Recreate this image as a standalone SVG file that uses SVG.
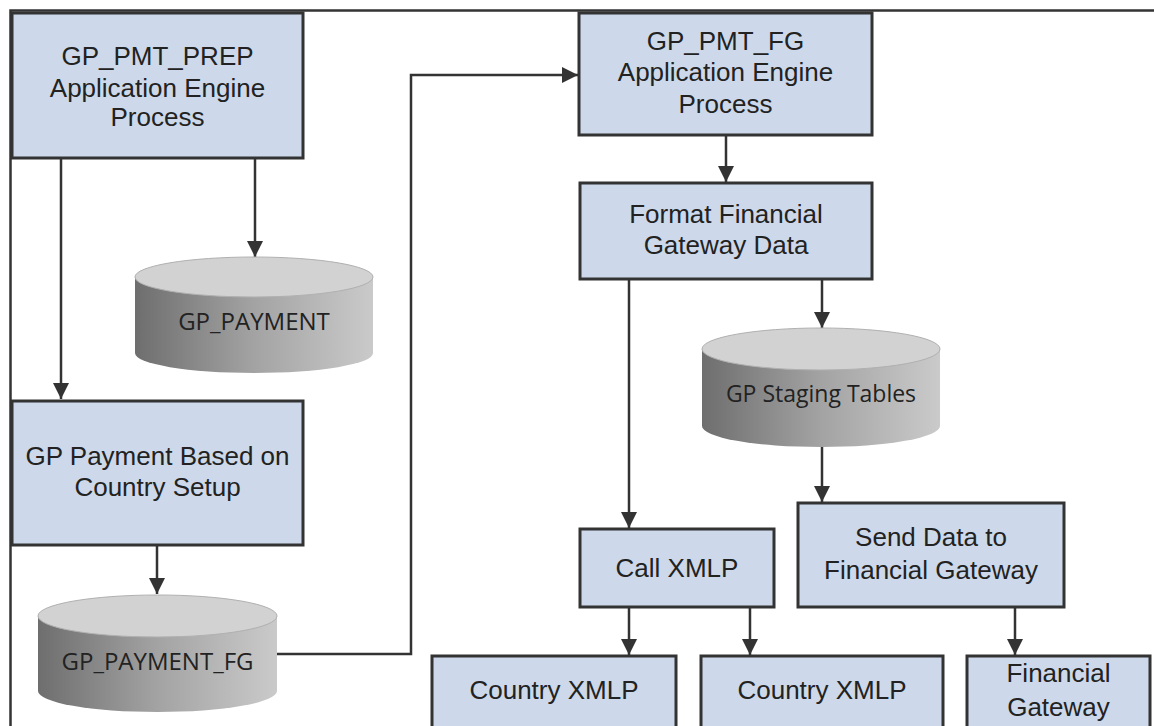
<svg xmlns="http://www.w3.org/2000/svg" width="1154" height="726" viewBox="0 0 1154 726">
<style>
.box{fill:#cdd9ea;stroke:#333;stroke-width:3}
.lbl{font-family:"Liberation Sans",Arial,sans-serif;font-size:26px;fill:#222;text-anchor:middle}
.dbl{font-family:"Open Sans","Noto Sans",sans-serif;font-size:24px;fill:#222;text-anchor:middle}
.side{fill:url(#cylGrad)}
.top{fill:#d2d2d2;stroke:#b0b0b0;stroke-width:1}
.conn{stroke:#333;stroke-width:2.5;fill:none;marker-end:url(#arr)}
.line{stroke:#333;stroke-width:2.5;fill:none}
</style>
<defs>
<marker id="arr" viewBox="0 0 16 16" markerWidth="16" markerHeight="16" refX="16" refY="8" orient="auto" markerUnits="userSpaceOnUse">
<path d="M0,0 L16,8 L0,16 z" fill="#333"/>
</marker>
<linearGradient id="cylGrad" x1="0" y1="0" x2="1" y2="0">
<stop offset="0" stop-color="#6e6e6e"/>
<stop offset="0.5" stop-color="#a3a3a3"/>
<stop offset="1" stop-color="#cacaca"/>
</linearGradient>
</defs>
<rect width="1154" height="726" fill="#fff"/>
<path class="line" d="M10.5,726 V10.5 H1154" stroke-width="1.5"/>

<g id="connectors">
<path class="conn" d="M61,158 V399"/>
<path class="conn" d="M255,158 V257"/>
<path class="conn" d="M157,545 V594"/>
<path class="conn" d="M277,654 H411 V75 H578"/>
<path class="conn" d="M726,135 V182"/>
<path class="conn" d="M629,279 V528"/>
<path class="conn" d="M822,279 V328"/>
<path class="conn" d="M822,447 V502"/>
<path class="conn" d="M629,607 V655"/>
<path class="conn" d="M750,607 V655"/>
<path class="conn" d="M1015,607 V655"/>
</g>

<g id="gp_pmt_prep">
<rect class="box" x="12" y="13" width="291" height="145"/>
<text class="lbl" x="157.5" y="65">GP_PMT_PREP</text>
<text class="lbl" x="157.5" y="97">Application Engine</text>
<text class="lbl" x="157.5" y="126">Process</text>
</g>

<g id="gp_payment">
<path class="side" d="M135,277 V353 A119,20 0 0 0 373,353 V277 Z"/>
<ellipse class="top" cx="254" cy="277" rx="119" ry="20"/>
<text class="dbl" x="254" y="330">GP_PAYMENT</text>
</g>

<g id="gp_payment_country">
<rect class="box" x="12" y="401" width="291" height="144"/>
<text class="lbl" x="157.5" y="465">GP Payment Based on</text>
<text class="lbl" x="157.5" y="496">Country Setup</text>
</g>

<g id="gp_payment_fg">
<path class="side" d="M38,616 V691 A119.5,21 0 0 0 277,691 V616 Z"/>
<ellipse class="top" cx="157.5" cy="616" rx="119.5" ry="21"/>
<text class="dbl" x="157.5" y="670">GP_PAYMENT_FG</text>
</g>

<g id="gp_pmt_fg">
<rect class="box" x="579" y="13" width="293" height="122"/>
<text class="lbl" x="725.5" y="50">GP_PMT_FG</text>
<text class="lbl" x="725.5" y="81">Application Engine</text>
<text class="lbl" x="725.5" y="113">Process</text>
</g>

<g id="format_fg">
<rect class="box" x="580" y="183" width="292" height="96"/>
<text class="lbl" x="726" y="223">Format Financial</text>
<text class="lbl" x="726" y="254">Gateway Data</text>
</g>

<g id="gp_staging">
<path class="side" d="M702,349 V426 A119,21 0 0 0 940,426 V349 Z"/>
<ellipse class="top" cx="821" cy="349" rx="119" ry="21"/>
<text class="dbl" x="821" y="402" style="font-size:23px">GP Staging Tables</text>
</g>

<g id="call_xmlp">
<rect class="box" x="580" y="529" width="194" height="78"/>
<text class="lbl" x="677" y="577">Call XMLP</text>
</g>

<g id="send_data">
<rect class="box" x="798" y="503" width="266" height="104"/>
<text class="lbl" x="931" y="546">Send Data to</text>
<text class="lbl" x="931" y="579">Financial Gateway</text>
</g>

<g id="country_xmlp_1">
<rect class="box" x="432" y="656" width="244" height="90"/>
<text class="lbl" x="554" y="699">Country XMLP</text>
</g>

<g id="country_xmlp_2">
<rect class="box" x="701" y="656" width="242" height="90"/>
<text class="lbl" x="822" y="699">Country XMLP</text>
</g>

<g id="financial_gateway">
<rect class="box" x="967" y="656" width="183" height="90"/>
<text class="lbl" x="1058.5" y="682">Financial</text>
<text class="lbl" x="1058.5" y="716">Gateway</text>
</g>
</svg>
